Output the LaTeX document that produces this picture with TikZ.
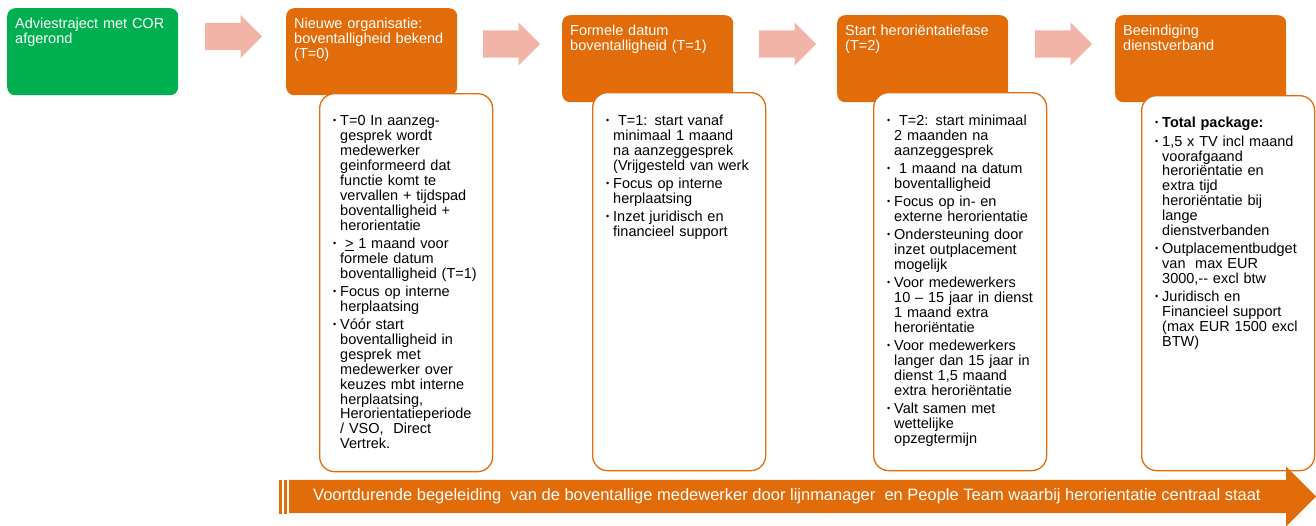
\documentclass[tikz,border=0pt]{standalone}
\usepackage{fontspec}
\setmainfont{Liberation Sans}
\usetikzlibrary{shapes.arrows}
\definecolor{groen}{RGB}{0,176,80}
\definecolor{oranje}{RGB}{227,108,10}
\definecolor{roze}{RGB}{241,180,167}
\setlength{\parindent}{0pt}
\newcommand{\punt}[1]{\par\hangindent=7pt\hangafter=1\noindent\makebox[7pt][l]{\raisebox{2pt}{\fontsize{9}{9}\selectfont•}}{\let\\\newline#1}\par}
\begin{document}
\begin{tikzpicture}[x=1pt, y=-1pt]
    \tikzstyle{blok}=[rectangle, rounded corners=8pt, inner sep=0pt, minimum width=171pt, minimum height=87pt, anchor=north west]
    \tikzstyle{groenblok}=[blok, fill=groen]
    \tikzstyle{fase}=[blok, fill=oranje]
    \tikzstyle{kop}=[anchor=north west, inner sep=0pt, text width=165pt, align=left, text=white, font=\fontsize{14.5}{15}\selectfont]
    \tikzstyle{kader}=[rectangle, draw=oranje, line width=1.3pt, fill=white, rounded corners=15pt, inner sep=0pt, minimum width=173pt, anchor=north west]
    \tikzstyle{lijst}=[anchor=north west, inner sep=0pt, text width=155pt, align=left, font=\fontsize{14.5}{14.9}\selectfont, execute at begin node={\setlength{\parskip}{3.3pt}}]
    \tikzstyle{pijl}=[single arrow, fill=roze, inner xsep=0pt, inner ysep=13.5pt, minimum height=57pt, single arrow head extend=8pt, anchor=tail]

    \useasboundingbox (0,0) rectangle (1316,525);

    \node[groenblok] (advies) at (7,8) {};
    \node[kop] (adviestekst) at ([shift={(8,9.5)}]advies.north west) {Adviestraject met COR\\afgerond};
    \node[pijl] (pijl1) at (205,36.5) {};

    \node[fase] (fase0) at (286,8) {};
    \node[kop] (fase0tekst) at ([shift={(8,9.5)}]fase0.north west) {Nieuwe organisatie:\\boventalligheid bekend\\(T=0)};
    \node[pijl] (pijl2) at (483,44) {};

    \node[fase] (fase1) at (562,15) {};
    \node[kop] (fase1tekst) at ([shift={(8,9.5)}]fase1.north west) {Formele datum\\boventalligheid (T=1)};
    \node[pijl] (pijl3) at (759,44) {};

    \node[fase] (fase2) at (837,15) {};
    \node[kop] (fase2tekst) at ([shift={(8,9.5)}]fase2.north west) {Start heroriëntatiefase\\(T=2)};
    \node[pijl] (pijl4) at (1035,44) {};

    \node[fase] (fase3) at (1115,15) {};
    \node[kop] (fase3tekst) at ([shift={(8,9.5)}]fase3.north west) {Beeindiging\\dienstverband};

    \node[kader, minimum height=378pt] (kader0) at (319,93) {};
    \node[lijst] (lijst0) at ([shift={(14,14.5)}]kader0.north west) {
        \punt{T=0 In aanzeg-\\gesprek wordt\\medewerker\\geinformeerd dat\\functie komt te\\vervallen + tijdspad\\boventalligheid +\\herorientatie}
        \punt{\ \underline{>} 1 maand voor\\formele datum\\boventalligheid (T=1)}
        \punt{Focus op interne\\herplaatsing}
        \punt{Vóór start\\boventalligheid in\\gesprek met\\medewerker over\\keuzes mbt interne\\herplaatsing,\\Herorientatieperiode\\/ VSO,\ \ Direct\\Vertrek.}
    };

    \node[kader, minimum height=378pt] (kader1) at (592,92) {};
    \node[lijst] (lijst1) at ([shift={(14,15)}]kader1.north west) {
        \punt{\ T=1: start vanaf\\minimaal 1 maand\\na aanzeggesprek\\(Vrijgesteld van werk}
        \punt{Focus op interne\\herplaatsing}
        \punt{Inzet juridisch en\\financieel support}
    };

    \node[kader, minimum height=378pt] (kader2) at (873,92) {};
    \node[lijst] (lijst2) at ([shift={(14,15)}]kader2.north west) {
        \punt{\ T=2: start minimaal\\2 maanden na\\aanzeggesprek}
        \punt{\ 1 maand na datum\\boventalligheid}
        \punt{Focus op in- en\\externe herorientatie}
        \punt{Ondersteuning door\\inzet outplacement\\mogelijk}
        \punt{Voor medewerkers\\10 – 15 jaar in dienst\\1 maand extra\\heroriëntatie}
        \punt{Voor medewerkers\\langer dan 15 jaar in\\dienst 1,5 maand\\extra heroriëntatie}
        \punt{Valt samen met\\wettelijke\\opzegtermijn}
    };

    \node[kader, minimum height=375pt] (kader3) at (1141,95) {};
    \node[lijst] (lijst3) at ([shift={(14,14.5)}]kader3.north west) {
        \punt{\textbf{Total package:}}
        \punt{1,5 x TV incl maand\\voorafgaand\\heroriëntatie en\\extra tijd\\heroriëntatie bij\\lange\\dienstverbanden}
        \punt{Outplacementbudget\\van\ \ max EUR\\3000,-{}- excl btw}
        \punt{Juridisch en\\Financieel support\\(max EUR 1500 excl\\BTW)}
    };

    \fill[oranje] (279,480) rectangle (282,514);
    \fill[oranje] (284,480) rectangle (287,514);
    \node[single arrow, fill=oranje, inner xsep=0pt, inner ysep=16.5pt, minimum height=1027pt, single arrow head extend=13.5pt, anchor=tail] (begeleiding) at (289,496.5) {};
    \node[anchor=base west, inner sep=0pt, text=white, font=\fontsize{16.5}{18}\selectfont] (begeleidingtekst) at (313,500) {Voortdurende begeleiding\ \ van de boventallige medewerker door lijnmanager\ \ en People Team waarbij herorientatie centraal staat};
\end{tikzpicture}
\end{document}
